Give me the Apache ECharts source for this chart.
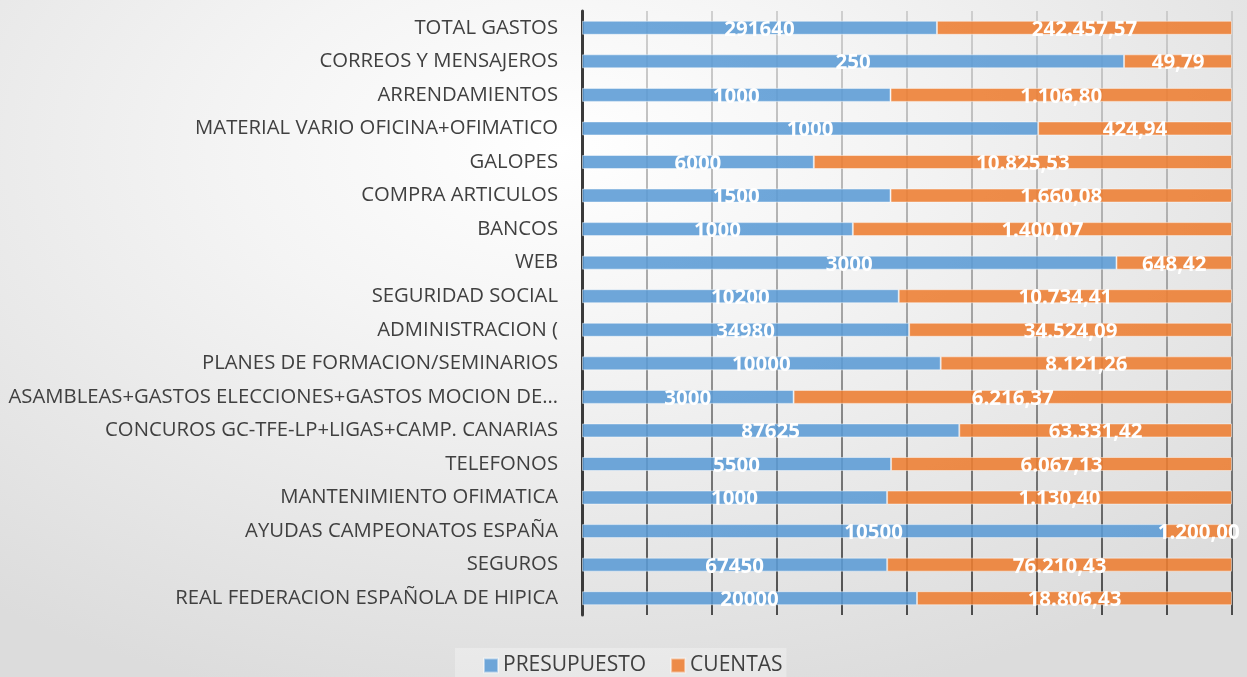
<!DOCTYPE html>
<html>
<head>
<meta charset="utf-8">
<script src="https://cdn.jsdelivr.net/npm/echarts@6/dist/echarts.min.js"></script>
<style>
html,body{margin:0;padding:0;}
#chart{width:1247px;height:677px;background:radial-gradient(ellipse 75% 85% at 45% 22%, #ffffff 0%, #f4f4f4 35%, #dcdcdc 100%);}
</style>
</head>
<body>
<div id="chart"></div>
<script>
const categories = [
  "TOTAL GASTOS",
  "CORREOS Y MENSAJEROS",
  "ARRENDAMIENTOS",
  "MATERIAL VARIO OFICINA+OFIMATICO",
  "GALOPES",
  "COMPRA ARTICULOS",
  "BANCOS",
  "WEB",
  "SEGURIDAD SOCIAL",
  "ADMINISTRACION (",
  "PLANES DE FORMACION/SEMINARIOS",
  "ASAMBLEAS+GASTOS ELECCIONES+GASTOS MOCION DE…",
  "CONCUROS GC-TFE-LP+LIGAS+CAMP. CANARIAS",
  "TELEFONOS",
  "MANTENIMIENTO OFIMATICA",
  "AYUDAS CAMPEONATOS ESPAÑA",
  "SEGUROS",
  "REAL FEDERACION ESPAÑOLA DE HIPICA"
];
const presupuesto = [291640, 250, 1000, 1000, 6000, 1500, 1000, 3000, 10200, 34980, 10000, 3000, 87625, 5500, 1000, 10500, 67450, 20000];
const cuentas = [242457.57, 49.79, 1106.80, 424.94, 10825.53, 1660.08, 1400.07, 648.42, 10734.41, 34524.09, 8121.26, 6216.37, 63331.42, 6067.13, 1130.40, 1200.00, 76210.43, 18806.43];
const seriesNames = ["PRESUPUESTO", "CUENTAS"];
const xTicks = [0, 10, 20, 30, 40, 50, 60, 70, 80, 90, 100];

function fmtEs(v) {
  const parts = v.toFixed(2).split(".");
  parts[0] = parts[0].replace(/\B(?=(\d{3})+(?!\d))/g, ".");
  return parts[0] + "," + parts[1];
}

const totals = presupuesto.map((p, i) => p + cuentas[i]);
const pData = presupuesto.map((p, i) => ({ value: p / totals[i] * 100, raw: p }));
const cData = cuentas.map((c, i) => ({ value: c / totals[i] * 100, raw: c }));

const chart = echarts.init(document.getElementById('chart'), null, { renderer: 'canvas' });
const labelStyle = {
  show: true,
  position: 'inside',
  color: '#ffffff',
  fontFamily: 'Open Sans',
  fontWeight: 'bold',
  fontSize: 20.5,
  offset: [0, 2]
};
const option = {
  animation: false,
  grid: { left: 582, right: 15, top: 11, bottom: 62, containLabel: false },
  legend: {
    bottom: -5,
    left: 455,
    itemWidth: 14,
    itemHeight: 14,
    itemGap: 24,
    padding: [7, 4, 6, 28],
    backgroundColor: 'rgba(255,255,255,0.3)',
    icon: 'rect',
    textStyle: { fontFamily: 'Open Sans', fontSize: 21, color: '#404040' },
    data: seriesNames
  },
  xAxis: {
    type: 'value',
    min: xTicks[0],
    max: xTicks[xTicks.length - 1],
    interval: 10,
    axisLine: { show: false },
    axisTick: { show: false },
    axisLabel: { show: false },
    splitLine: {
      show: true,
      lineStyle: {
        width: 1.5,
        color: new echarts.graphic.LinearGradient(0, 0, 0, 1, [
          { offset: 0, color: '#c4c4c4' },
          { offset: 0.5, color: '#8a8a8a' },
          { offset: 1, color: '#1a1a1a' }
        ])
      }
    }
  },
  yAxis: {
    type: 'category',
    inverse: true,
    data: categories,
    axisLine: { show: true, lineStyle: { color: '#3a3a3a', width: 3 } },
    axisTick: { show: false },
    axisLabel: { fontFamily: 'Open Sans', fontSize: 20.3, color: '#404040', margin: 24 }
  },
  series: [
    {
      name: seriesNames[0],
      type: 'bar',
      stack: 'total',
      barWidth: 14,
      data: pData,
      itemStyle: { color: 'rgba(91,155,213,0.88)', borderColor: 'rgba(255,255,255,0.45)', borderWidth: 1 },
      label: Object.assign({}, labelStyle, { formatter: p => String(p.data.raw) })
    },
    {
      name: seriesNames[1],
      type: 'bar',
      stack: 'total',
      barWidth: 14,
      data: cData,
      itemStyle: { color: 'rgba(237,125,49,0.88)', borderColor: 'rgba(255,255,255,0.45)', borderWidth: 1 },
      label: Object.assign({}, labelStyle, { formatter: p => fmtEs(p.data.raw) })
    }
  ]
};
chart.setOption(option);
</script>
</body>
</html>
